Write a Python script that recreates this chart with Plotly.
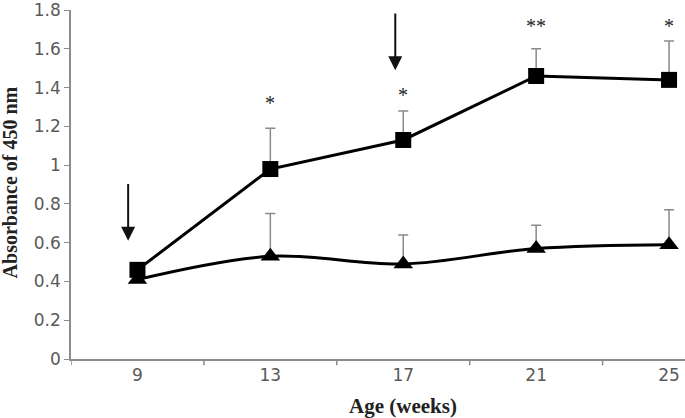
import plotly.graph_objects as go

ages = ["9", "13", "17", "21", "25"]
square_vals = [0.46, 0.98, 1.13, 1.46, 1.44]
square_err = [0.0, 0.21, 0.15, 0.14, 0.20]
tri_vals = [0.41, 0.53, 0.49, 0.57, 0.59]
tri_err = [0.0, 0.22, 0.15, 0.12, 0.18]
y_ticks = [0, 0.2, 0.4, 0.6, 0.8, 1, 1.2, 1.4, 1.6, 1.8]

stars = ["*", "*", "**", "*"]
star_x = [1, 2, 3, 4]
star_y = [1.32, 1.36, 1.72, 1.72]

arrow_x = [-0.07, 1.94]
arrow_tip_y = [0.61, 1.49]
arrow_tail_y = [0.91, 1.79]

xi = list(range(len(ages)))

fig = go.Figure()
fig.add_trace(go.Scatter(
    x=xi, y=tri_vals, mode="lines+markers",
    line=dict(color="black", width=3, shape="spline", smoothing=1),
    marker=dict(symbol="triangle-up", size=17, color="black"),
    error_y=dict(type="data", symmetric=False, array=tri_err,
                 arrayminus=[0]*5, color="#8a8a8a", thickness=1.5, width=5),
    showlegend=False, hoverinfo="skip"))
fig.add_trace(go.Scatter(
    x=xi, y=square_vals, mode="lines+markers",
    line=dict(color="black", width=3),
    marker=dict(symbol="square", size=16, color="black"),
    error_y=dict(type="data", symmetric=False, array=square_err,
                 arrayminus=[0]*5, color="#8a8a8a", thickness=1.5, width=5),
    showlegend=False, hoverinfo="skip"))

for s, x, y in zip(stars, star_x, star_y):
    fig.add_annotation(x=x, y=y, text=s, showarrow=False,
                       font=dict(family="Liberation Serif", size=20, color="#222"))

for x, ty, ay in zip(arrow_x, arrow_tip_y, arrow_tail_y):
    fig.add_annotation(x=x, y=ty, ax=x, ay=ay, axref="x", ayref="y",
                       xref="x", yref="y", text="", showarrow=True,
                       arrowhead=2, arrowsize=1.4, arrowwidth=2,
                       arrowcolor="#111")

# axis titles
fig.add_annotation(x=2, y=0, xref="x", yref="paper", yshift=-47,
                   yanchor="middle", xanchor="center",
                   text="<b>Age (weeks)</b>", showarrow=False,
                   font=dict(family="Liberation Serif", size=21, color="#222"))
fig.add_annotation(x=0, y=0.506, xref="paper", yref="paper", xshift=-61,
                   xanchor="center", yanchor="middle",
                   text="<b>Absorbance of 450 nm</b>", showarrow=False,
                   textangle=-90,
                   font=dict(family="Liberation Serif", size=20, color="#222"))

fig.update_layout(
    width=685, height=418,
    margin=dict(l=71, r=0, t=10, b=59),
    plot_bgcolor="white", paper_bgcolor="white",
    xaxis=dict(
        tickmode="array", tickvals=xi, ticktext=ages, automargin=False,
        range=[-0.5, 4.12], showgrid=False, zeroline=False,
        showline=True, linecolor="#8c8c8c", linewidth=1.5,
        ticks="", ticklabeloverflow="allow",
        tickfont=dict(family="DejaVu Sans", size=17, color="#595959"),
    ),
    yaxis=dict(
        range=[0, 1.8005], tickvals=y_ticks, showgrid=False, zeroline=False,
        automargin=False, ticklabeloverflow="allow",
        showline=True, linecolor="#8c8c8c", linewidth=1.5,
        ticks="outside", ticklen=5, tickcolor="#8c8c8c",
        tickfont=dict(family="DejaVu Sans", size=17, color="#595959"),
    ),
)

# x tick marks at category boundaries
for b in [-0.5, 0.5, 1.5, 2.5, 3.5]:
    fig.add_shape(type="line", xref="x", yref="paper", x0=b, x1=b,
                  y0=0, y1=-0.018, line=dict(color="#8c8c8c", width=1.5))

fig.write_html("out.html", config={"displayModeBar": False},
               post_script="document.body.style.margin='0';document.body.style.overflow='hidden';")
